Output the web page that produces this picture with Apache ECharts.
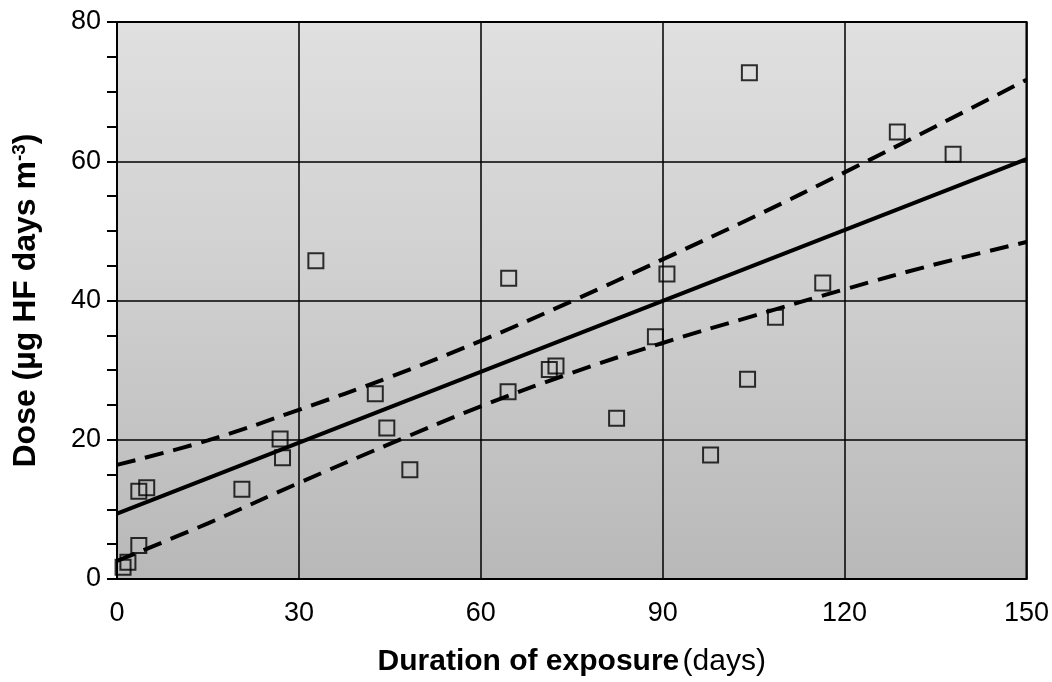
<!DOCTYPE html>
<html>
<head>
<meta charset="utf-8">
<script src="https://cdn.jsdelivr.net/npm/echarts@6/dist/echarts.min.js"></script>
<style>
  html, body { margin: 0; padding: 0; background: #fff; }
  #chart { width: 1052px; height: 682px; }
</style>
</head>
<body>
<div id="chart"></div>
<script>
// measured points: [duration (days), dose]
const duration = [1.0, 1.8, 3.6, 3.6, 4.9, 20.6, 26.9, 27.3, 32.8, 42.6, 44.5, 48.3, 64.6, 64.5,
  71.3, 72.4, 82.4, 88.8, 90.7, 97.9, 104.0, 104.3, 108.6, 116.4, 128.7, 137.9];
const dose = [1.7, 2.4, 4.8, 12.6, 13.1, 12.9, 20.1, 17.4, 45.7, 26.6, 21.7, 15.7, 43.2, 26.9,
  30.1, 30.6, 23.1, 34.8, 43.8, 17.8, 28.7, 72.7, 37.6, 42.5, 64.2, 61.0];

// regression line and confidence band
const fitX = [0, 150];
const fitY = [9.4, 60.3];
const bandX = [0, 15, 30, 45, 60, 75, 90, 105, 120, 135, 150];
const upperY = [16.4, 19.9, 24.3, 29.0, 34.2, 39.9, 45.9, 52.0, 58.4, 65.0, 71.7];
const lowerY = [2.6, 8.0, 13.8, 19.4, 24.8, 29.6, 33.9, 37.8, 41.6, 45.2, 48.4];

const xTicks = [0, 30, 60, 90, 120, 150];
const yTicks = [0, 20, 40, 60, 80];

const sans = "'Liberation Sans', Arial, sans-serif";

const zip = (xs, ys) => xs.map((x, i) => [x, ys[i]]);

const chart = echarts.init(document.getElementById("chart"));

const dashed = {
  type: "line",
  smooth: 0.4,
  symbol: "none",
  lineStyle: { color: "#000", width: 4, type: [19, 10] },
  z: 3,
};

chart.setOption({
  animation: false,
  grid: {
    left: 117,
    right: 19,
    top: 22,
    bottom: 103,
    show: true,
    borderColor: "#000",
    borderWidth: 2,
    backgroundColor: new echarts.graphic.LinearGradient(0, 0, 0, 1, [
      { offset: 0, color: "#e0e0e0" },
      { offset: 0.45, color: "#d0d0d0" },
      { offset: 1, color: "#b8b8b8" },
    ]),
  },
  xAxis: {
    type: "value",
    min: xTicks[0],
    max: xTicks[xTicks.length - 1],
    interval: 30,
    name: "{b|Duration of exposure} {r|(days)}",
    nameLocation: "middle",
    nameGap: 68,
    nameTextStyle: {
      rich: {
        b: { fontFamily: sans, fontWeight: "bold", fontSize: 30, color: "#000" },
        r: { fontFamily: sans, fontSize: 30, color: "#000" },
      },
    },
    axisLine: { lineStyle: { color: "#000", width: 2 } },
    axisTick: { show: false },
    axisLabel: {
      margin: 21,
      fontFamily: sans,
      fontSize: 27,
      color: "#000",
    },
    splitLine: { lineStyle: { color: "#000", width: 1.5 } },
  },
  yAxis: {
    type: "value",
    min: yTicks[0],
    max: yTicks[yTicks.length - 1],
    interval: 20,
    name: "{b|Dose (µg HF days m}{s|-3}{b|)}",
    nameLocation: "middle",
    nameGap: 75,
    nameRotate: 90,
    nameTextStyle: {
      rich: {
        b: { fontFamily: sans, fontWeight: "bold", fontSize: 32, color: "#000" },
        s: { fontFamily: sans, fontWeight: "bold", fontSize: 19, color: "#000", verticalAlign: "top" },
      },
    },
    axisLine: { show: true, lineStyle: { color: "#000", width: 2 } },
    axisTick: { show: true, length: 10, lineStyle: { color: "#000", width: 2 } },
    minorTick: { show: true, splitNumber: 4, length: 10, lineStyle: { color: "#000", width: 2 } },
    axisLabel: {
      margin: 16,
      fontFamily: sans,
      fontSize: 27,
      color: "#000",
    },
    splitLine: { lineStyle: { color: "#000", width: 1.5 } },
  },
  series: [
    {
      type: "line",
      symbol: "none",
      data: zip(fitX, fitY),
      lineStyle: { color: "#000", width: 4 },
      z: 3,
    },
    Object.assign({ data: zip(bandX, upperY) }, dashed),
    Object.assign({ data: zip(bandX, lowerY) }, dashed),
    {
      type: "scatter",
      symbol: "rect",
      symbolSize: 15,
      data: zip(duration, dose),
      itemStyle: { color: "rgba(0,0,0,0)", borderColor: "#000", borderWidth: 2 },
      z: 4,
    },
  ],
});
</script>
</body>
</html>
